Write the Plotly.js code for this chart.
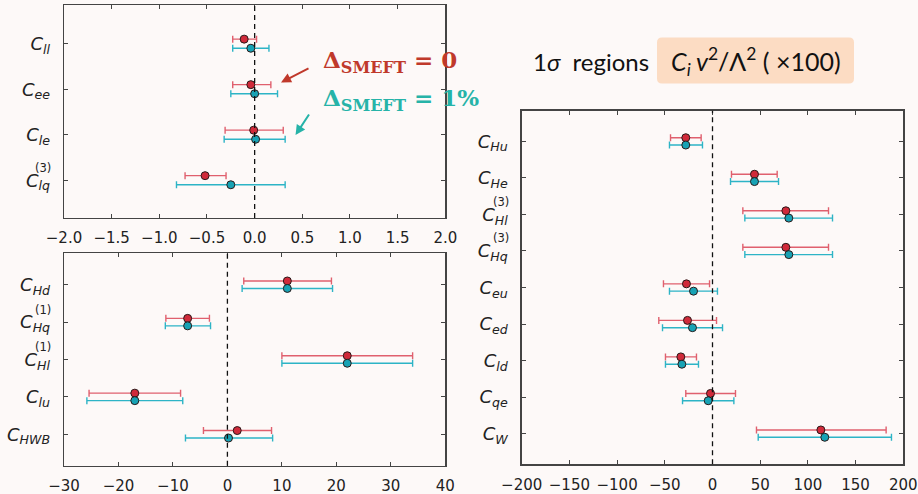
<!DOCTYPE html>
<html><head><meta charset="utf-8">
<script src="https://cdn.plot.ly/plotly-3.0.1.min.js"></script>
<style>html,body{margin:0;padding:0;background:#fdf9f8;}</style>
</head><body>
<div id="chart" style="width:918px;height:494px;"></div>
<script>
// ---------- data ----------
// Panel A (top-left)
const labelsA = ["<i>C</i><sub><i>ll</i></sub>", "<i>C</i><sub><i>ee</i></sub>", "<i>C</i><sub><i>le</i></sub>", "<i>C</i><sub><i>lq</i></sub>"];
const supA = ["", "", "", "(3)"];
const redA_c  = [-0.11, -0.04, -0.01, -0.52];
const redA_lo = [-0.23, -0.23, -0.31, -0.73];
const redA_hi = [0.02, 0.17, 0.30, -0.30];
const bluA_c  = [-0.04, 0.00, 0.01, -0.25];
const bluA_lo = [-0.23, -0.25, -0.32, -0.82];
const bluA_hi = [0.15, 0.24, 0.32, 0.32];

// Panel B (bottom-left)
const labelsB = ["<i>C</i><sub><i>Hd</i></sub>", "<i>C</i><sub><i>Hq</i></sub>", "<i>C</i><sub><i>Hl</i></sub>", "<i>C</i><sub><i>lu</i></sub>", "<i>C</i><sub><i>HWB</i></sub>"];
const supB = ["", "(1)", "(1)", "", ""];
const redB_c  = [11.0, -7.3, 22.0, -17.0, 1.8];
const redB_lo = [3.0, -11.3, 10.0, -25.4, -4.4];
const redB_hi = [19.1, -3.3, 34.0, -8.6, 8.1];
const bluB_c  = [11.0, -7.3, 22.0, -17.0, 0.2];
const bluB_lo = [2.7, -11.4, 10.0, -25.8, -7.7];
const bluB_hi = [19.3, -3.1, 34.0, -8.2, 8.3];

// Panel C (right)
const labelsC = ["<i>C</i><sub><i>Hu</i></sub>", "<i>C</i><sub><i>He</i></sub>", "<i>C</i><sub><i>Hl</i></sub>", "<i>C</i><sub><i>Hq</i></sub>", "<i>C</i><sub><i>eu</i></sub>", "<i>C</i><sub><i>ed</i></sub>", "<i>C</i><sub><i>ld</i></sub>", "<i>C</i><sub><i>qe</i></sub>", "<i>C</i><sub><i>W</i></sub>"];
const supC = ["", "", "(3)", "(3)", "", "", "", "", ""];
const redC_c  = [-28.0, 44.0, 76.9, 76.9, -27.3, -26.2, -33.2, -2.1, 113.6];
const redC_lo = [-44.0, 19.9, 31.8, 31.8, -51.4, -56.3, -49.3, -28.0, 46.1];
const redC_hi = [-11.9, 67.8, 121.6, 121.6, -3.1, 4.2, -16.8, 24.1, 182.0];
const bluC_c  = [-28.0, 44.0, 80.0, 80.0, -19.9, -21.0, -32.1, -4.5, 117.7];
const bluC_lo = [-45.1, 18.9, 33.9, 33.9, -45.1, -52.4, -49.3, -31.4, 47.9];
const bluC_hi = [-10.5, 69.2, 125.8, 125.8, 5.2, 10.5, -14.7, 22.4, 187.6];

// ---------- styles ----------
const RED_M = '#d02a3a', RED_E = '#e0606e';
const BLU_M = '#17a2b4', BLU_E = '#2db4c6';
const BG = '#fdf9f8';
const OFF = 0.1;

function traces(c, lo, hi, xa, ya, mcol, ecol, shift) {
  const idx = c.map((_, i) => i + shift);
  return {
    type: 'scatter', mode: 'markers', x: c, y: idx, xaxis: xa, yaxis: ya,
    showlegend: false, hoverinfo: 'x',
    marker: {size: 8, color: mcol, line: {color: '#2a1a1a', width: 1}},
    error_x: {type: 'data', symmetric: false,
      array: hi.map((h, i) => h - c[i]),
      arrayminus: lo.map((l, i) => c[i] - l),
      color: ecol, thickness: 1.4, width: 3.5}
  };
}

const data = [
  traces(redA_c, redA_lo, redA_hi, 'x', 'y', RED_M, RED_E, -OFF),
  traces(bluA_c, bluA_lo, bluA_hi, 'x', 'y', BLU_M, BLU_E, OFF),
  traces(redB_c, redB_lo, redB_hi, 'x2', 'y2', RED_M, RED_E, -OFF),
  traces(bluB_c, bluB_lo, bluB_hi, 'x2', 'y2', BLU_M, BLU_E, OFF),
  traces(redC_c, redC_lo, redC_hi, 'x3', 'y3', RED_M, RED_E, -OFF),
  traces(bluC_c, bluC_lo, bluC_hi, 'x3', 'y3', BLU_M, BLU_E, OFF)
];

const W = 918, H = 494;
const px = v => v / W, py = v => 1 - v / H;

const tickFont = {family: 'DejaVu Sans', size: 15, color: '#222'};
const labFont = {family: 'DejaVu Sans', size: 18, color: '#222'};

function xax(domain, range, dtick, fmt, anchor) {
  return {domain: domain, range: range, dtick: dtick, tick0: 0, tickformat: fmt,
    anchor: anchor, showgrid: false, zeroline: false, showline: true, linecolor: '#444', linewidth: 1.3,
    mirror: 'ticks', ticks: 'inside', ticklen: 4, tickcolor: '#444', tickwidth: 1,
    tickfont: tickFont, ticklabelstandoff: 6, fixedrange: true};
}
function yax(domain, n, labels, anchor) {
  return {domain: domain, range: [n - 1 + 0.84, -0.84], tickmode: 'array',
    tickvals: labels.map((_, i) => i), ticktext: labels,
    anchor: anchor, showgrid: false, zeroline: false, showline: true, linecolor: '#444', linewidth: 1.3,
    mirror: 'ticks', ticks: 'inside', ticklen: 4, tickcolor: '#444', tickwidth: 1,
    tickfont: labFont, ticklabelstandoff: 9, fixedrange: true};
}

const annotations = [];
function supAnn(sups, ya, xa) {
  sups.forEach((s, i) => {
    if (!s) return;
    annotations.push({xref: xa + ' domain', yref: ya, x: 0, y: i, xanchor: 'right', yanchor: 'middle',
      xshift: -11, yshift: 12.5, text: s, showarrow: false,
      font: {family: 'DejaVu Sans', size: 11.5, color: '#222'}});
  });
}
supAnn(supA, 'y', 'x');
supAnn(supB, 'y2', 'x2');
supAnn(supC, 'y3', 'x3');

// Delta labels
annotations.push({xref: 'paper', yref: 'paper', x: px(321), y: py(61), xanchor: 'left', yanchor: 'middle',
  showarrow: false, text: '<b>Δ<sub>SMEFT</sub> = 0</b>',
  font: {family: 'DejaVu Serif', size: 23, color: '#c0392b'}});
annotations.push({xref: 'paper', yref: 'paper', x: px(321), y: py(99), xanchor: 'left', yanchor: 'middle',
  showarrow: false, text: '<b>Δ<sub>SMEFT</sub> = 1%</b>',
  font: {family: 'DejaVu Serif', size: 23, color: '#26b3a8'}});
// arrows
annotations.push({xref: 'paper', yref: 'paper', x: px(281), y: py(82.5), text: '', showarrow: true,
  ax: 29, ay: -15, arrowhead: 2, arrowsize: 1, arrowwidth: 2, arrowcolor: '#c0392b'});
annotations.push({xref: 'paper', yref: 'paper', x: px(295.5), y: py(135), text: '', showarrow: true,
  ax: 14.5, ay: -22, arrowhead: 2, arrowsize: 1, arrowwidth: 2, arrowcolor: '#26b3a8'});
// title
annotations.push({xref: 'paper', yref: 'paper', x: px(531), y: py(61), xanchor: 'left', yanchor: 'middle',
  showarrow: false, text: '1<i>σ</i>  regions', font: {family: 'Lato', size: 24, color: '#111'}});
annotations.push({xref: 'paper', yref: 'paper', x: px(755.5), y: py(61), xanchor: 'center', yanchor: 'middle',
  showarrow: false, text: '<i>C<sub>i</sub> v</i><sup>2</sup>/Λ<sup>2</sup> ( ×100)', font: {family: 'Lato', size: 25, color: '#111'}});

// rounded box path in paper coords
function roundRect(x0, y0, x1, y1, r) {
  const X = v => px(v), Y = v => py(v);
  return `M ${X(x0 + r)} ${Y(y0)} L ${X(x1 - r)} ${Y(y0)} Q ${X(x1)} ${Y(y0)} ${X(x1)} ${Y(y0 + r)} ` +
    `L ${X(x1)} ${Y(y1 - r)} Q ${X(x1)} ${Y(y1)} ${X(x1 - r)} ${Y(y1)} L ${X(x0 + r)} ${Y(y1)} ` +
    `Q ${X(x0)} ${Y(y1)} ${X(x0)} ${Y(y1 - r)} L ${X(x0)} ${Y(y0 + r)} Q ${X(x0)} ${Y(y0)} ${X(x0 + r)} ${Y(y0)} Z`;
}

const shapes = [
  {type: 'path', xref: 'paper', yref: 'paper', path: roundRect(657, 37.5, 854, 83.5, 5),
    fillcolor: '#fcdcc3', line: {width: 0}, layer: 'below'},
  {type: 'line', xref: 'x', yref: 'y domain', x0: 0, x1: 0, y0: 0, y1: 1, line: {color: '#111', width: 1.3, dash: '5px,4px'}},
  {type: 'line', xref: 'x2', yref: 'y2 domain', x0: 0, x1: 0, y0: 0, y1: 1, line: {color: '#111', width: 1.3, dash: '5px,4px'}},
  {type: 'line', xref: 'x3', yref: 'y3 domain', x0: 0, x1: 0, y0: 0, y1: 1, line: {color: '#111', width: 1.3, dash: '5px,4px'}}
];

const layout = {
  width: W, height: H, margin: {l: 0, r: 0, t: 0, b: 0},
  paper_bgcolor: BG, plot_bgcolor: BG, showlegend: false,
  xaxis: xax([px(64), px(445.3)], [-2, 2], 0.5, '.1f', 'y'),
  yaxis: yax([py(218), py(5)], 4, labelsA, 'x'),
  xaxis2: xax([px(64), px(445.3)], [-30, 40], 10, 'd', 'y2'),
  yaxis2: yax([py(465.7), py(253.3)], 5, labelsB, 'x2'),
  xaxis3: xax([px(521.7), px(903.3)], [-200, 200], 50, 'd', 'y3'),
  yaxis3: yax([py(464.3), py(110.7)], 9, labelsC, 'x3'),
  annotations: annotations, shapes: shapes
};
layout.yaxis.range = [3.83, -0.85];

Plotly.newPlot('chart', data, layout, {displayModeBar: false, staticPlot: true});
</script>
</body></html>
